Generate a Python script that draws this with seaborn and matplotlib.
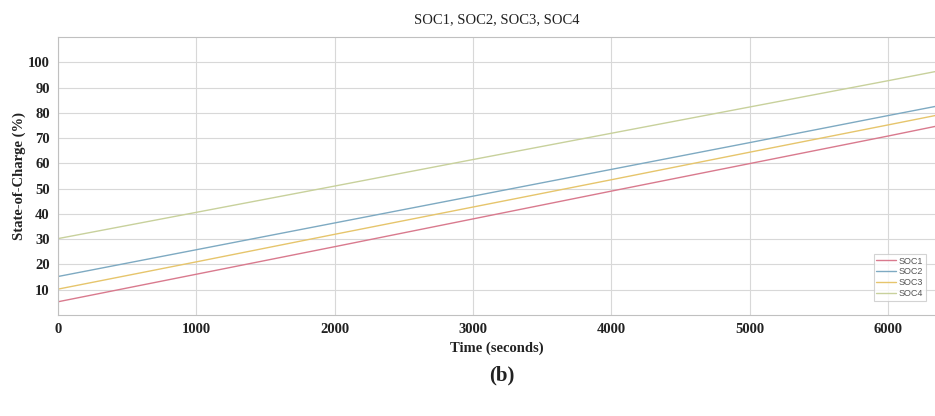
import numpy as np
import pandas as pd
import matplotlib
matplotlib.use("Agg")
import matplotlib.pyplot as plt
import seaborn as sns

time_s = [0, 1000, 2000, 3000, 4000, 5000, 6000, 6340]
soc1 = [5.2, 16.1, 27.0, 38.0, 49.0, 59.9, 70.8, 74.6]
soc2 = [15.2, 25.8, 36.4, 47.0, 57.6, 68.2, 78.9, 82.5]
soc3 = [10.2, 21.0, 31.9, 42.7, 53.5, 64.4, 75.2, 78.9]
soc4 = [30.2, 40.6, 51.0, 61.5, 71.9, 82.3, 92.7, 96.3]
series_names = ["SOC1", "SOC2", "SOC3", "SOC4"]
x_ticks = [0, 1000, 2000, 3000, 4000, 5000, 6000]
y_ticks = [10, 20, 30, 40, 50, 60, 70, 80, 90, 100]

colors = ["#d97a8e", "#7eaac2", "#e6c56c", "#c8d19c"]

rows = []
for name, vals in zip(series_names, [soc1, soc2, soc3, soc4]):
    for t, v in zip(time_s, vals):
        rows.append({"Time": t, "SOC": v, "Series": name})
df = pd.DataFrame(rows)

sns.set_theme(style="white")
plt.rcParams['font.family'] = ['Liberation Serif', 'DejaVu Serif']

fig = plt.figure(figsize=(9.35, 4.16), dpi=100)
ax = fig.add_axes([0.062, 0.243, 0.938, 0.668])

sns.lineplot(data=df, x="Time", y="SOC", hue="Series", palette=colors,
             linewidth=1.0, ax=ax, legend=True)

ax.set_xlim(0, 6340)
ax.set_ylim(0, 110)
ax.set_xticks(x_ticks)
ax.set_yticks(y_ticks)
ax.grid(True, color="#d8d8d8", linewidth=0.8)
for s in ax.spines.values():
    s.set_color("#c0c0c0")
    s.set_linewidth(0.8)
ax.spines["right"].set_visible(False)
ax.tick_params(axis="both", length=0, pad=6)
for lab in ax.get_xticklabels() + ax.get_yticklabels():
    lab.set_fontweight("bold")
    lab.set_fontsize(10.5)
    lab.set_color("#222222")

ax.set_xlabel("Time (seconds)", fontsize=10.5, fontweight="bold", color="#222222", labelpad=4)
ax.set_ylabel("State-of-Charge (%)", fontsize=10.5, fontweight="bold", color="#222222", labelpad=1)
ax.set_title("SOC1, SOC2, SOC3, SOC4", fontsize=10.5, color="#222222", pad=10)

leg = ax.legend(loc="lower right", fontsize=6.5, frameon=True, fancybox=False,
                handlelength=2.2, handletextpad=0.3, borderpad=0.3, labelspacing=0.2,
                prop={"family": "Liberation Sans", "size": 6.5}, bbox_to_anchor=(0.995, 0.035))
leg.get_frame().set_edgecolor("#c8c8c8")
leg.get_frame().set_linewidth(0.8)
for t in leg.get_texts():
    t.set_color("#555555")

fig.text(0.537, 0.098, "(b)", ha="center", va="center", fontsize=15, fontweight="bold", color="#222222")

fig.savefig("out.png", dpi=100)
